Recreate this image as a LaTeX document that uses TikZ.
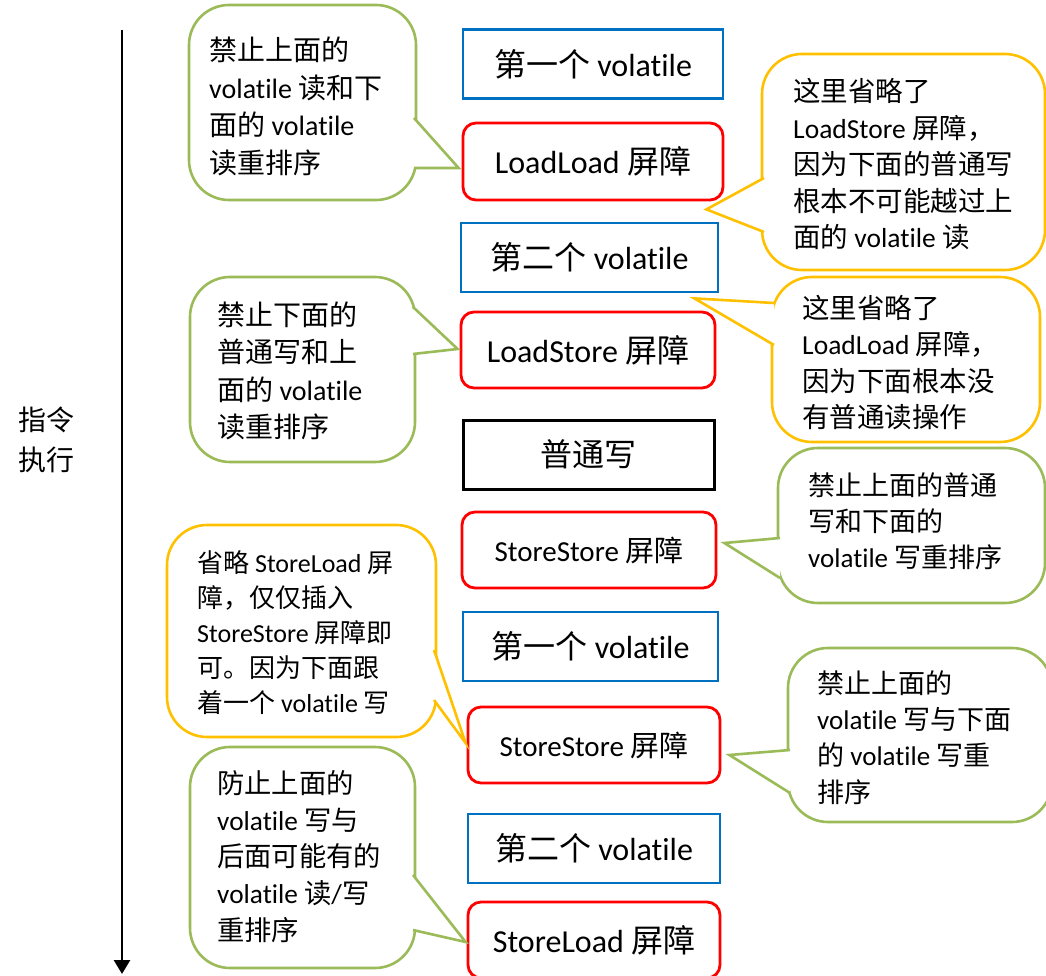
\documentclass[tikz,border=0pt]{standalone}
\usepackage{fontspec}
\setmainfont{Carlito}[Ligatures=NoCommon]
\newfontfamily\cjkfont{Noto Sans CJK SC}
\newcommand\zh[1]{{\cjkfont #1}}
\usetikzlibrary{arrows.meta}
\definecolor{volblue}{HTML}{0070C0}
\definecolor{barred}{HTML}{FF0000}
\definecolor{notegreen}{HTML}{9BBB59}
\definecolor{noteyellow}{HTML}{FFC000}
\tikzset{
  volbox/.style={draw=volblue, line width=2.8pt, minimum width=255, minimum height=69,
    inner sep=0pt, font=\fontsize{32}{38}\selectfont},
  barrier/.style={draw=barred, line width=2.8pt, rounded corners=13pt, minimum width=254,
    minimum height=76, inner sep=0pt, font=\fontsize{32}{38}\selectfont},
  plainbox/.style={draw=black, line width=3pt, minimum width=251, minimum height=69,
    inner sep=0pt, font=\fontsize{32}{38}\selectfont},
  gnote/.style={draw=notegreen, line width=2.6pt, rounded corners=40pt, inner sep=0pt},
  ynote/.style={draw=noteyellow, line width=2.6pt, rounded corners=40pt, inner sep=0pt},
  gtail/.style={draw=notegreen, fill=white, line width=2.6pt},
  ytail/.style={draw=noteyellow, fill=white, line width=2.6pt},
  notetext/.style={anchor=west, align=left, inner sep=0pt, font=\fontsize{27.5}{36.5}\selectfont},
}
\begin{document}
\begin{tikzpicture}[x=1pt, y=1pt]
  \useasboundingbox (0,0) rectangle (1046,-976);
  % time axis
  \coordinate (axtop) at (122,-30);
  \coordinate (axbot) at (122,-974);
  \draw [line width=2.8pt, -{Triangle[length=14pt,width=16pt]}] (axtop) -- (axbot);
  \node [anchor=west, align=left, inner sep=0pt, font=\fontsize{28}{40}\selectfont]
        (axlabel) at (18,-440) {\zh{指令}\\\zh{执行}};
  % instruction column
  \node [volbox, minimum width=260]                    (v1)  at (593,-64)    {\zh{第一个} volatile};
  \node [barrier, minimum width=260, minimum height=77] (ll)  at (593,-161.5) {LoadLoad \zh{屏障}};
  \node [volbox, minimum width=257]                    (v2)  at (589.5,-257.5) {\zh{第二个} volatile};
  \node [barrier]                                      (ls)  at (588,-350)   {LoadStore \zh{屏障}};
  \node [plainbox]                                     (nw)  at (588.5,-454.5) {\zh{普通写}};
  \node [barrier, font=\fontsize{29}{35}\selectfont]   (ss1) at (589,-550)   {StoreStore \zh{屏障}};
  \node [volbox]                                       (v3)  at (590.5,-646.5) {\zh{第一个} volatile};
  \node [barrier, minimum width=252, font=\fontsize{29}{35}\selectfont] (ss2) at (594,-745) {StoreStore \zh{屏障}};
  \node [volbox, minimum width=252]                    (v4)  at (594,-848.5) {\zh{第二个} volatile};
  \node [barrier, minimum width=252]                   (sl)  at (594,-940)   {StoreLoad \zh{屏障}};
  % notes, left side
  \node [gnote, minimum width=227, minimum height=195] (n1) at (302.5,-102.5) {};
  \filldraw [gtail] (414,-118) -- ([shift={(-3,-6.5)}]ll.west) -- (414,-168);        %LoadLoad
  \node [notetext, font=\fontsize{28}{37.5}\selectfont] (t1) at (209,-106.5)
        {\zh{禁止上面的}\\volatile \zh{读和下}\\\zh{面的} volatile\\\zh{读重排序}};
  \node [gnote, minimum width=225, minimum height=185] (n2) at (302.5,-369.5) {};
  \filldraw [gtail] (413,-307) -- ([shift={(-2,1)}]ls.west) -- (413,-354);           %LoadStore
  \node [notetext, font=\fontsize{28}{37.3}\selectfont] (t2) at (217,-371)
        {\zh{禁止下面的}\\\zh{普通写和上}\\\zh{面的} volatile\\\zh{读重排序}};
  \node [ynote, minimum width=269, minimum height=212] (n3) at (301.5,-631) {};
  \filldraw [ytail] (434,-650) -- ([shift={(-1,2)}]ss2.west) -- (434,-700);          %StoreStore
  \node [notetext, font=\fontsize{26}{34.8}\selectfont] (t3) at (197,-632.5)
        {\zh{省略} StoreLoad \zh{屏}\\\zh{障，仅仅插入}\\StoreStore \zh{屏障即}\\\zh{可。因为下面跟}\\\zh{着一个} volatile \zh{写}};
  \node [gnote, minimum width=225, minimum height=221] (n4) at (302.5,-857.5) {};
  \filldraw [gtail] (413,-875) -- ([shift={(-1,-2)}]sl.west) -- (413,-930);          %StoreLoad
  \node [notetext, font=\fontsize{27.3}{36.8}\selectfont] (t4) at (217,-856.5)
        {\zh{防止上面的}\\volatile \zh{写与}\\\zh{后面可能有的}\\volatile \zh{读}/\zh{写}\\\zh{重排序}};
  % notes, right side
  \node [ynote, minimum width=283, minimum height=216] (n5) at (903.5,-162) {};
  \filldraw [ytail] (764,-178) -- ([shift={(-18,-8)}]ll.south east) -- (764,-232);   %no LoadStore
  \node [notetext] (t5) at (793,-164.5)
        {\zh{这里省略了}\\LoadStore \zh{屏障，}\\\zh{因为下面的普通写}\\\zh{根本不可能越过上}\\\zh{面的} volatile \zh{读}};
  \node [ynote, minimum width=268, minimum height=165] (n6) at (906,-359.5) {};
  \filldraw [ytail] (774,-303) -- ([shift={(-25,-5)}]v2.south east) -- (774,-345);   %no LoadLoad
  \node [notetext] (t6) at (802,-362.5)
        {\zh{这里省略了}\\LoadLoad \zh{屏障，}\\\zh{因为下面根本没}\\\zh{有普通读操作}};
  \node [gnote, minimum width=267, minimum height=155] (n7) at (911.5,-525.5) {};
  \filldraw [gtail] (780,-538) -- ([shift={(7,7)}]ss1.east) -- (780,-578);           %StoreStore
  \node [notetext, font=\fontsize{27}{36}\selectfont] (t7) at (808,-521)
        {\zh{禁止上面的普通}\\\zh{写和下面的}\\volatile \zh{写重排序}};
  \node [gnote, minimum width=264, minimum height=174] (n8) at (920,-735) {};
  \filldraw [gtail] (790,-750) -- ([shift={(8,-10)}]ss2.east) -- (790,-793);         %StoreStore
  \node [notetext, font=\fontsize{27}{36.3}\selectfont] (t8) at (817,-737.5)
        {\zh{禁止上面的}\\volatile \zh{写与下面}\\\zh{的} volatile \zh{写重}\\\zh{排序}};
\end{tikzpicture}
\end{document}
